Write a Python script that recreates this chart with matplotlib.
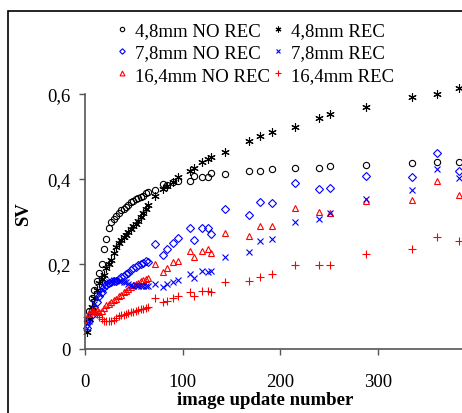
import matplotlib
matplotlib.use("Agg")
import matplotlib.pyplot as plt
from matplotlib.patches import Rectangle

plt.rcParams['font.family'] = ['Liberation Serif', 'DejaVu Serif']

# image update numbers (shared by all six runs)
x_upd = [2, 4.5, 7, 9.5, 12, 14.5, 17, 19.5, 22, 24.5, 27, 29.5, 32, 34.5, 37, 39.5,
         42, 44.5, 47, 49.5, 52, 54.5, 57, 59.5, 62, 64.5,
         71.6, 80, 84, 90, 95.5, 107.5, 112, 120, 125.5, 128.5,
         143, 168, 179.5, 191.5, 215.5, 240, 251, 288, 335, 360, 383]

sv_48_norec = [0.065, 0.09, 0.12, 0.14, 0.16, 0.18, 0.20, 0.235, 0.26, 0.285, 0.30, 0.305,
               0.313, 0.32, 0.326, 0.33, 0.335, 0.34, 0.345, 0.348, 0.352, 0.355, 0.357,
               0.361, 0.366, 0.370,
               0.375, 0.388, 0.385, 0.392, 0.396, 0.396, 0.408, 0.404, 0.404, 0.414,
               0.412, 0.418, 0.418, 0.423, 0.425, 0.427, 0.430, 0.433, 0.438, 0.440, 0.440]
sv_48_rec = [0.04, 0.07, 0.10, 0.12, 0.14, 0.155, 0.165, 0.175, 0.19, 0.20, 0.21, 0.225,
             0.24, 0.25, 0.257, 0.263, 0.268, 0.275, 0.282, 0.29, 0.294, 0.302, 0.31,
             0.32, 0.33, 0.34,
             0.361, 0.376, 0.383, 0.392, 0.404, 0.420, 0.427, 0.439, 0.447, 0.451,
             0.464, 0.490, 0.501, 0.510, 0.523, 0.543, 0.553, 0.569, 0.592, 0.599, 0.613]
sv_78_norec = [0.05, 0.065, 0.08, 0.10, 0.11, 0.125, 0.135, 0.145, 0.15, 0.155, 0.158, 0.16,
               0.16, 0.165, 0.17, 0.172, 0.176, 0.18, 0.186, 0.19, 0.194, 0.198, 0.20,
               0.203, 0.206, 0.204,
               0.248, 0.221, 0.235, 0.250, 0.262, 0.285, 0.257, 0.285, 0.285, 0.271,
               0.329, 0.315, 0.347, 0.344, 0.391, 0.377, 0.379, 0.408, 0.405, 0.462, 0.420]
sv_78_rec = [0.05, 0.065, 0.085, 0.105, 0.12, 0.13, 0.14, 0.148, 0.152, 0.158, 0.16, 0.162,
             0.162, 0.161, 0.16, 0.158, 0.157, 0.153, 0.15, 0.149, 0.15, 0.149, 0.148,
             0.149, 0.148, 0.149,
             0.153, 0.145, 0.153, 0.158, 0.163, 0.176, 0.166, 0.184, 0.182, 0.184,
             0.216, 0.229, 0.253, 0.259, 0.299, 0.305, 0.320, 0.353, 0.374, 0.424, 0.402]
sv_164_norec = [0.07, 0.085, 0.09, 0.095, 0.092, 0.088, 0.09, 0.097, 0.103, 0.107, 0.11, 0.115,
                0.118, 0.125, 0.128, 0.133, 0.137, 0.141, 0.147, 0.15, 0.153, 0.156, 0.16,
                0.162, 0.165, 0.166,
                0.200, 0.182, 0.190, 0.204, 0.208, 0.231, 0.216, 0.231, 0.235, 0.226,
                0.274, 0.265, 0.289, 0.289, 0.331, 0.323, 0.319, 0.348, 0.351, 0.395, 0.362]
sv_164_rec = [0.075, 0.085, 0.09, 0.088, 0.083, 0.075, 0.07, 0.067, 0.066, 0.066, 0.067, 0.068,
              0.072, 0.077, 0.079, 0.081, 0.083, 0.085, 0.086, 0.088, 0.089, 0.091, 0.093,
              0.094, 0.096, 0.098,
              0.119, 0.111, 0.114, 0.119, 0.124, 0.135, 0.125, 0.137, 0.137, 0.135,
              0.158, 0.159, 0.169, 0.176, 0.198, 0.198, 0.198, 0.223, 0.235, 0.263, 0.253]

W, H = 462, 414
fig = plt.figure(figsize=(W / 100, H / 100), dpi=100)
ax = fig.add_axes([85 / W, (H - 350) / H, (W - 85) / W, 255 / H])

kw = dict(linestyle='none', clip_on=False)
ax.plot(x_upd, sv_48_norec, marker='o', mfc='none', mec='black', mew=0.8, ms=4.5,
        label='4,8mm NO REC', **kw)
ax.plot(x_upd, sv_78_norec, marker='D', mfc='none', mec='blue', mew=0.8, ms=4,
        label='7,8mm NO REC', **kw)
ax.plot(x_upd, sv_164_norec, marker='^', mfc='none', mec='red', mew=0.8, ms=5,
        label='16,4mm NO REC', **kw)
ax.plot(x_upd, sv_48_rec, marker=(6, 2, 0), color='black', mew=0.8, ms=6,
        label='4,8mm REC', **kw)
ax.plot(x_upd, sv_78_rec, marker='x', color='blue', mew=0.8, ms=5,
        label='7,8mm REC', **kw)
ax.plot(x_upd, sv_164_rec, marker='+', color='red', mew=0.8, ms=6,
        label='16,4mm REC', **kw)

ax.set_xlim(0, 386)
ax.set_ylim(0, 0.6)
ax.set_xticks([0, 100, 200, 300])
ax.set_yticks([0, 0.2, 0.4, 0.6])
ax.set_yticklabels(['0', '0,2', '0,4', '0,6'])
for s in ['top', 'right']:
    ax.spines[s].set_visible(False)
for s in ['left', 'bottom']:
    ax.spines[s].set_color('#555555')
    ax.spines[s].set_linewidth(1.2)
ax.tick_params(axis='both', direction='out', length=4, width=1, color='#555555',
               labelsize=13.5)
ax.tick_params(axis='x', pad=13)
ax.tick_params(axis='y', pad=6.5)

ax.set_xlabel('image update number', fontsize=13.5, fontweight='bold')
ax.xaxis.set_label_coords((265 - 85) / 377, -0.165)
ax.set_ylabel('SV', fontsize=13.5, fontweight='bold')
ax.yaxis.set_label_coords(-0.141, 0.533)

leg = ax.legend(ncol=2, frameon=False, loc='upper left', fontsize=13.5,
                bbox_to_anchor=(116 / W, 1 - 23 / H), bbox_transform=fig.transFigure,
                handlelength=0.6, handletextpad=0.4, columnspacing=0.15,
                labelspacing=0.28, borderpad=0, borderaxespad=0, markerscale=0.7)

fig.patches.append(Rectangle((8 / W, -0.2), 2, 1.2 - 12 / H, transform=fig.transFigure,
                             fill=False, edgecolor='black', linewidth=1.2))

fig.savefig('out.png', dpi=100)
